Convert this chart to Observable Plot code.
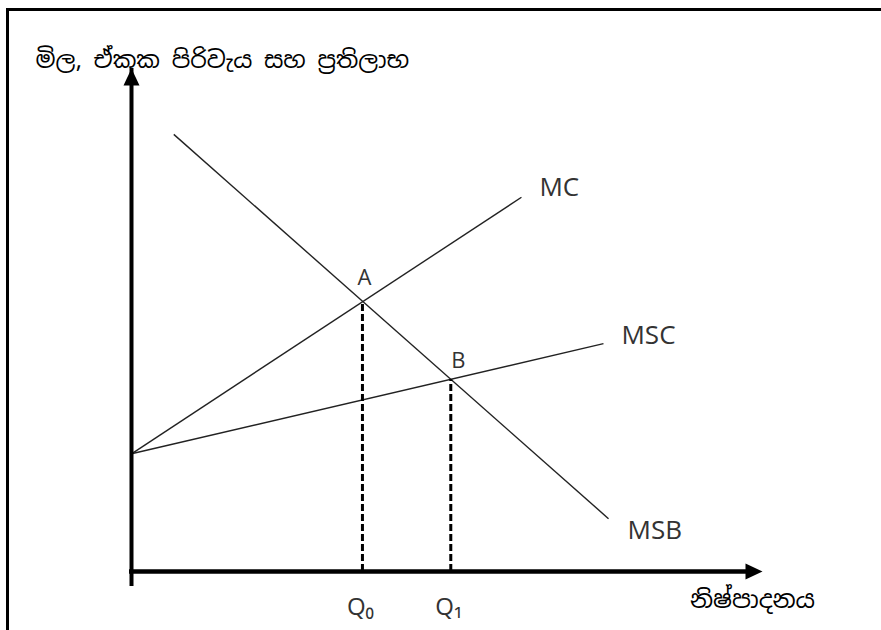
<!DOCTYPE html>
<html>
<head>
<meta charset="utf-8">
<script src="https://cdn.jsdelivr.net/npm/d3@7"></script>
<script src="https://cdn.jsdelivr.net/npm/@observablehq/plot@0.6"></script>
<style>
  html, body { margin: 0; padding: 0; background: #fff; }
  #wrap { position: relative; width: 881px; height: 630px; overflow: hidden; }
  #frame { position: absolute; left: 6px; top: 8px; width: 900px; height: 700px;
           border-top: 3px solid #000; border-left: 3px solid #000; }
  #chart { position: absolute; left: 0; top: 0; }
</style>
</head>
<body>
<div id="wrap"><div id="frame"></div><div id="chart"></div></div>
<script>
// ---- data ----
const curveNames  = ["MC", "MSC", "MSB"];
const curveQStart = [0, 0, 6.7];
const curvePStart = [23.4, 23.4, 86.9];
const curveQEnd   = [61.8, 74.8, 75.6];
const curvePEnd   = [74.4, 45.3, 10.5];

const pointLabels = ["A", "B"];
const pointQ = [36.6, 50.6];
const pointP = [53.5, 38.1];

const qTickLabels = ["Q₀", "Q₁"];

const yTitle = "මිල, ඒකක පිරිවැය සහ ප්‍රතිලාභ";
const xTitle = "නිෂ්පාදනය";

const axisMax = 100;

// ---- tables ----
const curves = curveNames.map((name, i) => ({
  name, q1: curveQStart[i], p1: curvePStart[i], q2: curveQEnd[i], p2: curvePEnd[i]
}));
const points = pointLabels.map((label, i) => ({label, q: pointQ[i], p: pointP[i], tick: qTickLabels[i]}));

// filled arrowhead with its tip at the anchor
const arrowHead = {
  draw(ctx) { ctx.moveTo(0, 0); ctx.lineTo(8, 17); ctx.lineTo(-8, 17); ctx.closePath(); }
};

const labelFont = "'Open Sans', 'DejaVu Sans', sans-serif";
const sinhalaFont = "'Noto Sans Sinhala', 'Iskoola Pota', 'Noto Sans', sans-serif";
const curveOffsets = {MC: [18, -10], MSC: [18, -7.5], MSB: [19, 12]};
const pointOffsets = {A: [2, -24], B: [7.5, -19]};

const chart = Plot.plot({
  width: 881,
  height: 630,
  margin: 0,
  x: {domain: [0, axisMax], range: [131, 762], axis: null},
  y: {domain: [0, axisMax], range: [571, 68], axis: null},
  marks: [
    // curves
    Plot.link(curves, {x1: "q1", y1: "p1", x2: "q2", y2: "p2", stroke: "#222", strokeWidth: 1.4}),
    // dashed drop lines
    Plot.ruleX(points, {x: "q", y1: 0, y2: "p", stroke: "#000", strokeWidth: 3, strokeDasharray: "7,3"}),
    // axes
    Plot.ruleX([0], {y1: 0, y2: axisMax, stroke: "#000", strokeWidth: 4, insetTop: 15}),
    Plot.ruleY([0], {x1: 0, x2: axisMax, stroke: "#000", strokeWidth: 4.5, insetRight: 15, insetLeft: -2}),
    Plot.dot([0], {x: 0, y: axisMax, symbol: arrowHead, fill: "#000", stroke: null, r: 5}),
    Plot.dot([0], {x: axisMax, y: 0, symbol: arrowHead, fill: "#000", stroke: null, r: 5, rotate: 90}),
    // curve labels
    ...curves.map(c => Plot.text([c], {
      x: "q2", y: "p2", text: "name", textAnchor: "start",
      dx: curveOffsets[c.name][0], dy: curveOffsets[c.name][1],
      fontSize: 26, fontFamily: labelFont, fill: "#333"
    })),
    // point labels
    ...points.map(p => Plot.text([p], {
      x: "q", y: "p", text: "label",
      dx: pointOffsets[p.label][0], dy: pointOffsets[p.label][1],
      fontSize: 22, fontFamily: labelFont, fill: "#333"
    })),
    // Q tick labels
    Plot.text(points, {x: "q", y: 0, text: "tick", dx: -2, dy: 36, fontSize: 24, fontFamily: labelFont, fill: "#333"}),
    // axis titles
    Plot.text([yTitle], {frameAnchor: "top-left", text: d => d, textAnchor: "start", dx: 35, dy: 51,
      fontSize: 23.5, fontFamily: sinhalaFont, fill: "#000"}),
    Plot.text([xTitle], {x: axisMax, y: 0, text: d => d, dx: -10, dy: 29,
      fontSize: 24, fontFamily: sinhalaFont, fill: "#000"})
  ]
});
document.getElementById("chart").appendChild(chart);
</script>
</body>
</html>
